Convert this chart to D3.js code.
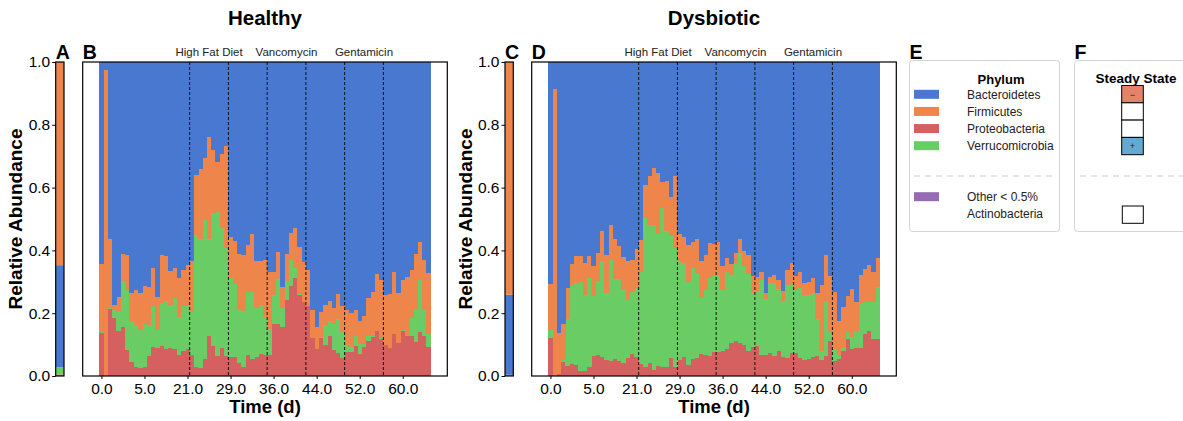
<!DOCTYPE html>
<html>
<head>
<meta charset="utf-8">
<script src="https://cdn.jsdelivr.net/npm/d3@7"></script>
<style>
body { margin: 0; background: #fff; }
text { font-family: Arial, "Liberation Sans", sans-serif; }
</style>
</head>
<body>
<script>
const WIDTH = 1183;
const HEIGHT = 421;
const TOP = 62;
const BOTTOM = 376;

var phyla = ["Bacteroidetes", "Firmicutes", "Proteobacteria", "Verrucomicrobia"];
var otherPhyla = ["Actinobacteria"];
var colors = {
  Bacteroidetes: "#4878d0",
  Firmicutes: "#ee854a",
  Proteobacteria: "#d65f5f",
  Verrucomicrobia: "#6acc64",
  Actinobacteria: "#956cb4"
};

var timeTickIndex = [0, 10, 20, 30, 40, 50, 60, 70];
var timeTickLabels = ["0.0", "5.0", "21.0", "29.0", "36.0", "44.0", "52.0", "60.0"];
var treatmentBounds = [21, 30, 39, 48, 57, 66];
var treatments = ["High Fat Diet", "Vancomycin", "Gentamicin"];
var yTicks = [0, 0.2, 0.4, 0.6, 0.8, 1.0];

// steady state composition (panels A, C)
var healthySteady = {Proteobacteria: 0.005, Actinobacteria: 0, Verrucomicrobia: 0.023, Bacteroidetes: 0.325, Firmicutes: 0.647};
var dysbioticSteady = {Proteobacteria: 0, Actinobacteria: 0.004, Verrucomicrobia: 0, Bacteroidetes: 0.255, Firmicutes: 0.741};

// healthy time series (panel B)
var healthyProteo = [.136,0,.213,.185,.144,.155,.083,.045,.03,.027,.029,.064,.091,.089,.095,.087,.089,.085,.067,.08,
  .086,.066,.029,.027,.054,.127,.095,.064,.089,.064,.06,.06,.041,.03,.067,.054,.06,.07,.067,.067,
  .165,.165,.156,.242,.286,.312,.258,.235,.223,.121,.086,.121,.099,.127,.083,.073,.057,.076,.076,.095,
  .07,.092,.111,.124,.143,.118,.099,.089,.134,.105,.143,.127,.127,.108,.14,.127,.092];
var healthyVerruco = [.004,.003,.005,.025,.062,.146,.191,.127,.132,.12,.136,.098,.132,.058,.137,.152,.137,.163,.121,.144,
  .14,.138,.42,.409,.442,.309,.424,.458,.382,.343,.252,.233,.172,.177,.2,.213,.156,.156,.121,.083,
  .093,.144,.06,.06,.083,.032,.003,0,0,0,0,.003,.063,.048,.082,.108,.083,.023,.016,.032,
  .032,.01,.016,.003,0,.003,0,0,0,0,.003,0,.058,.105,.165,.083,.042];
var healthyFirmic = [.218,.971,.218,.016,.045,.089,.111,.092,.112,.117,.121,.121,.121,.104,.153,.143,.108,.096,.124,.113,
  .127,.162,.191,.223,.198,.324,.2,.159,.235,.325,.13,.137,.175,.178,.15,.185,.15,.14,.182,.181,
  .073,.086,.067,.086,.086,.127,.149,.128,.114,.089,.07,.08,.064,.064,.051,.08,.083,.111,.108,.083,
  .073,.089,.121,.14,.182,.184,.159,.172,.197,.159,.159,.188,.152,.175,.121,.159,.194];
var healthyBactero = [.642,.026,.564,.774,.749,.61,.615,.736,.726,.736,.714,.717,.656,.749,.615,.618,.666,.656,.688,.663,
  .647,.634,.36,.341,.306,.24,.281,.319,.294,.268,.558,.57,.612,.615,.583,.548,.634,.634,.63,.669,
  .669,.605,.717,.612,.545,.529,.59,.637,.663,.79,.844,.796,.774,.761,.784,.739,.777,.79,.8,.79,
  .825,.809,.752,.733,.675,.695,.742,.739,.669,.736,.695,.685,.663,.612,.574,.631,.672];

// dysbiotic time series (panel D)
var dysbioticProteo = [.121,0,.005,.045,.032,.038,.035,.016,.016,.029,.064,.067,.06,.051,.048,.054,.048,.041,.057,.07,
  .06,.038,.029,.041,.019,.032,.029,.029,.057,.029,.051,.06,.035,.054,.057,.07,.067,.064,.076,.076,
  .08,.086,.105,.111,.105,.099,.08,.092,.095,.067,.067,.073,.064,.08,.06,.057,.073,.073,.057,.051,
  .054,.06,.064,.051,.064,.111,.048,.054,.08,.118,.086,.089,.089,.134,.143,.118,.118];
var dysbioticVerruco = [.025,0,0,.006,.149,.252,.26,.283,.242,.283,.191,.235,.306,.213,.321,.255,.261,.236,.185,.197,
  .22,.293,.474,.439,.461,.42,.506,.432,.388,.378,.315,.3,.264,.29,.271,.178,.207,.248,.242,.246,
  .194,.245,.216,.249,.286,.251,.245,.172,.175,.238,.178,.223,.232,.197,.179,.233,.22,.201,.223,.207,
  .204,.204,.117,.029,.175,.029,.038,.013,.009,.022,.038,.054,.143,.101,.092,.117,.165];
var dysbioticFirmic = [.147,.915,.132,.114,.099,.066,.087,.083,.102,.07,.095,.089,.095,.121,.111,.127,.105,.102,.124,.102,
  .124,.102,.105,.156,.182,.194,.082,.159,.125,.229,.086,.082,.118,.082,.108,.118,.111,.111,.102,.104,
  .076,.044,.035,.031,.045,.048,.06,.054,.045,.026,.019,.019,.025,.028,.031,.047,.067,.044,.051,.038,
  .041,.048,.083,.21,.146,.178,.181,.108,.131,.115,.153,.092,.089,.105,.118,.096,.092];
var dysbioticBactero = [.707,.085,.863,.835,.72,.644,.618,.618,.64,.618,.65,.609,.539,.615,.52,.564,.586,.621,.634,.631,
  .596,.567,.392,.364,.338,.354,.383,.38,.43,.364,.548,.558,.583,.574,.564,.634,.615,.577,.58,.574,
  .65,.625,.644,.609,.564,.602,.615,.682,.685,.669,.736,.685,.679,.695,.73,.663,.64,.682,.669,.704,
  .701,.688,.736,.71,.615,.682,.733,.825,.78,.745,.723,.765,.679,.66,.647,.669,.625];

var translate = function(x, y) {
  return "translate(" + x + "," + y + ")";
};

var svg = d3.select("body").append("svg")
  .attr("width", WIDTH)
  .attr("height", HEIGHT);

var yScale = d3.scaleLinear().domain([0, 1]).range([BOTTOM, TOP]);

var panelLetter = function(x, label) {
  svg.append("text").attr("x", x).attr("y", 59)
    .attr("font-size", 19.5).attr("font-weight", "bold").text(label);
};

var drawSteady = function(x0, comp, letter) {
  var w = 8.3;
  var keys = ["Proteobacteria", "Actinobacteria", "Verrucomicrobia", "Bacteroidetes", "Firmicutes"];
  var series = d3.stack().keys(keys)([comp]);
  var g = svg.append("g");
  g.selectAll("rect").data(series).enter().append("rect")
    .attr("x", x0).attr("width", w)
    .attr("y", function(d) { return yScale(d[0][1]); })
    .attr("height", function(d) { return yScale(d[0][0]) - yScale(d[0][1]); })
    .attr("fill", function(d) { return colors[d.key]; });
  g.append("rect").attr("x", x0).attr("y", TOP).attr("width", w).attr("height", BOTTOM - TOP)
    .attr("fill", "none").attr("stroke", "#000").attr("stroke-width", 1.2);
  var yAxis = d3.axisLeft(yScale).tickValues(yTicks).tickFormat(d3.format(".1f")).tickSize(3.5).tickPadding(2);
  var ax = g.append("g").attr("transform", translate(x0, 0)).call(yAxis);
  ax.select(".domain").remove();
  ax.selectAll("text").attr("font-size", 15.5).attr("font-family", "Arial, 'Liberation Sans', sans-serif").attr("fill", "#000");
  svg.append("text").attr("transform", translate(x0 - 40, (TOP + BOTTOM) / 2) + " rotate(-90)")
    .attr("text-anchor", "middle").attr("dy", "0.35em")
    .attr("font-size", 19).attr("font-weight", "bold").text("Relative Abundance");
  panelLetter(x0, letter);
};

var drawSeries = function(x0, cols, letter, title) {
  var n = cols.Proteobacteria.length;
  var pad = n * 0.05;
  var xScale = d3.scaleLinear().domain([-pad, n + pad]).range([x0, x0 + 364.6]);
  var rows = d3.range(n).map(function(i) {
    return {
      Proteobacteria: cols.Proteobacteria[i],
      Verrucomicrobia: cols.Verrucomicrobia[i],
      Firmicutes: cols.Firmicutes[i],
      Bacteroidetes: cols.Bacteroidetes[i]
    };
  });
  var series = d3.stack().keys(["Proteobacteria", "Verrucomicrobia", "Firmicutes", "Bacteroidetes"])(rows);
  var g = svg.append("g");
  g.selectAll("g.layer").data(series).enter().append("g")
    .attr("fill", function(d) { return colors[d.key]; })
    .attr("shape-rendering", "crispEdges")
    .selectAll("rect").data(function(d) { return d; }).enter().append("rect")
    .attr("x", function(d, i) { return xScale(i); })
    .attr("width", xScale(1) - xScale(0) + 0.3)
    .attr("y", function(d) { return yScale(Math.min(1, d[1])); })
    .attr("height", function(d) { return Math.max(0, yScale(d[0]) - yScale(Math.min(1, d[1]))); });

  g.selectAll("line.bound").data(treatmentBounds).enter().append("line")
    .attr("x1", function(d) { return xScale(d); }).attr("x2", function(d) { return xScale(d); })
    .attr("y1", TOP).attr("y2", BOTTOM)
    .attr("stroke", "#111").attr("stroke-width", 1).attr("stroke-dasharray", "3,2");

  treatments.forEach(function(t, j) {
    var mid = (treatmentBounds[2 * j] + treatmentBounds[2 * j + 1]) / 2;
    g.append("text").attr("x", xScale(mid)).attr("y", 56).attr("text-anchor", "middle")
      .attr("font-size", 11.5).attr("fill", "#222").text(t);
  });

  g.append("rect").attr("x", x0).attr("y", TOP).attr("width", 364.6).attr("height", BOTTOM - TOP)
    .attr("fill", "none").attr("stroke", "#000").attr("stroke-width", 1.2);

  var xAxis = d3.axisBottom(xScale)
    .tickValues(timeTickIndex.map(function(i) { return i + 0.5; }))
    .tickFormat(function(d, j) { return timeTickLabels[j]; })
    .tickSize(3).tickPadding(4);
  var ax = g.append("g").attr("transform", translate(0, BOTTOM)).call(xAxis);
  ax.select(".domain").remove();
  ax.selectAll("text").attr("font-size", 15.5).attr("font-family", "Arial, 'Liberation Sans', sans-serif").attr("fill", "#000");

  svg.append("text").attr("x", x0 + 182.3).attr("y", 413).attr("text-anchor", "middle")
    .attr("font-size", 18.5).attr("font-weight", "bold").text("Time (d)");
  svg.append("text").attr("x", x0 + 182.3).attr("y", 25).attr("text-anchor", "middle")
    .attr("font-size", 20.5).attr("font-weight", "bold").text(title);
  panelLetter(x0, letter);
};

drawSteady(55.7, healthySteady, "A");
drawSeries(82.7, {
  Proteobacteria: healthyProteo, Verrucomicrobia: healthyVerruco,
  Firmicutes: healthyFirmic, Bacteroidetes: healthyBactero
}, "B", "Healthy");

drawSteady(505, dysbioticSteady, "C");
drawSeries(531.7, {
  Proteobacteria: dysbioticProteo, Verrucomicrobia: dysbioticVerruco,
  Firmicutes: dysbioticFirmic, Bacteroidetes: dysbioticBactero
}, "D", "Dysbiotic");

// legend E
var legE = svg.append("g");
legE.append("rect").attr("x", 909.5).attr("y", 60.5).attr("width", 150).attr("height", 171).attr("rx", 3)
  .attr("fill", "#fff").attr("stroke", "#d4d4d4");
legE.append("text").attr("x", 1001).attr("y", 84).attr("text-anchor", "middle")
  .attr("font-size", 13).attr("font-weight", "bold").text("Phylum");
var legY = d3.scalePoint().domain(phyla).range([94.3, 145.7]);
phyla.forEach(function(p) {
  legE.append("rect").attr("x", 914).attr("y", legY(p) - 4.5).attr("width", 25).attr("height", 9).attr("fill", colors[p]);
  legE.append("text").attr("x", 967).attr("y", legY(p) + 4.2).attr("font-size", 12).attr("fill", "#222").text(p);
});
legE.append("line").attr("x1", 914).attr("x2", 1056).attr("y1", 176).attr("y2", 176)
  .attr("stroke", "#ddd").attr("stroke-width", 1.5).attr("stroke-dasharray", "6,5");
legE.append("rect").attr("x", 914).attr("y", 192.2).attr("width", 25).attr("height", 9).attr("fill", colors.Actinobacteria);
legE.append("text").attr("x", 967).attr("y", 200.9).attr("font-size", 12).attr("fill", "#222").text("Other < 0.5%");
legE.append("text").attr("x", 967).attr("y", 217.9).attr("font-size", 12).attr("fill", "#222").text(otherPhyla[0]);
panelLetter(909.5, "E");

// legend F
var steadyMarks = [
  {fill: "#e5836a", sign: "\u2212"},
  {fill: "#fff", sign: ""},
  {fill: "#fff", sign: ""},
  {fill: "#64a9d2", sign: "+"}
];
var legF = svg.append("g");
legF.append("rect").attr("x", 1074.5).attr("y", 60.5).attr("width", 130).attr("height", 171).attr("rx", 3)
  .attr("fill", "#fff").attr("stroke", "#d4d4d4");
legF.append("text").attr("x", 1136).attr("y", 83).attr("text-anchor", "middle")
  .attr("font-size", 13.5).attr("font-weight", "bold").text("Steady State");
steadyMarks.forEach(function(m, i) {
  var y = 85.5 + i * 17.3;
  legF.append("rect").attr("x", 1121.7).attr("y", y).attr("width", 21.6).attr("height", 17.3)
    .attr("fill", m.fill).attr("stroke", "#000").attr("stroke-width", 1);
  legF.append("text").attr("x", 1132.5).attr("y", y + 12).attr("text-anchor", "middle")
    .attr("font-size", 9).attr("fill", "#222").text(m.sign);
});
legF.append("line").attr("x1", 1080).attr("x2", 1183).attr("y1", 176).attr("y2", 176)
  .attr("stroke", "#ddd").attr("stroke-width", 1.5).attr("stroke-dasharray", "6,5");
legF.append("rect").attr("x", 1122.3).attr("y", 206).attr("width", 21).attr("height", 17.3)
  .attr("fill", "#fff").attr("stroke", "#000").attr("stroke-width", 1);
panelLetter(1074.5, "F");
</script>
</body>
</html>
